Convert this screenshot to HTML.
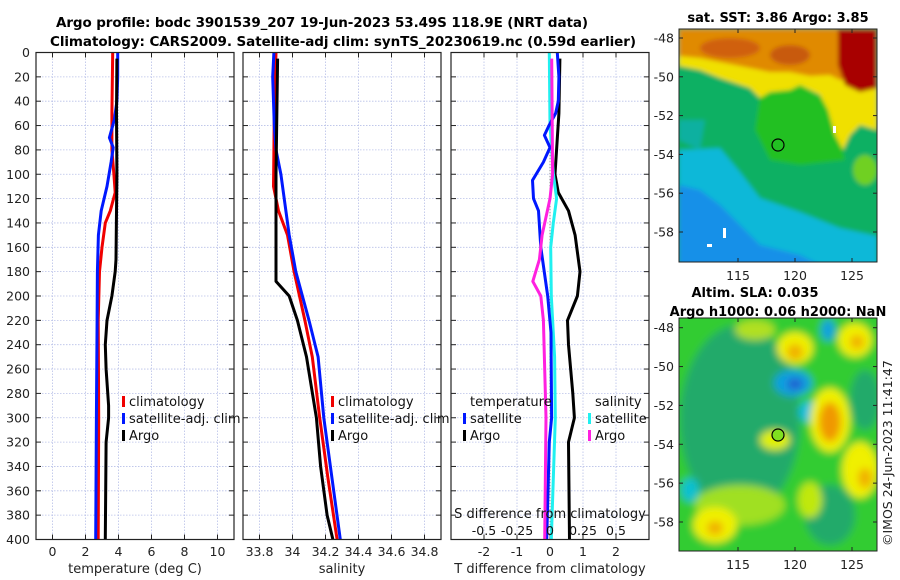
<!DOCTYPE html>
<html><head><meta charset="utf-8"><style>
body{margin:0;background:#fff;width:900px;height:580px;overflow:hidden}
svg{display:block;font-family:"DejaVu Sans","Liberation Sans",sans-serif}
</style></head><body>
<svg id="chart" width="900" height="580" viewBox="0 0 900 580">
<defs>
<filter id="blur2"><feGaussianBlur stdDeviation="2"/></filter>
<filter id="blur4"><feGaussianBlur stdDeviation="4"/></filter>
<clipPath id="clipTop"><rect x="679" y="29" width="198" height="233"/></clipPath>
<clipPath id="clipBot"><rect x="679" y="318" width="198" height="233"/></clipPath>
</defs>
<text x="322" y="27" font-size="13.5" font-weight="bold" text-anchor="middle" textLength="532">Argo profile: bodc 3901539_207 19-Jun-2023 53.49S 118.9E (NRT data)</text>
<text x="343" y="46" font-size="13.5" font-weight="bold" text-anchor="middle" textLength="586">Climatology: CARS2009. Satellite-adj clim: synTS_20230619.nc (0.59d earlier)</text>
<g id="plots"></g>

<!-- top map -->
<g clip-path="url(#clipTop)">
<g filter="url(#blur2)">
<rect x="670" y="20" width="220" height="250" fill="#10b064"/>
<polygon points="679,150 720,148 740,172 760,198 800,212 840,228 877,236 877,270 679,270" fill="#10b8d8"/>
<polygon points="679,185 700,190 720,205 740,225 760,245 800,255 830,270 679,270" fill="#1890e8"/>
<polygon points="679,140 700,150 705,120 679,120" fill="#10b0a0"/>
<polygon points="760,95 800,85 825,100 840,140 845,160 800,165 770,160 755,130" fill="#20c020"/>
<ellipse cx="865" cy="170" rx="12" ry="15" fill="#70d020"/>
<polygon points="679,29 877,29 877,130 860,125 850,135 843,150 835,135 828,110 820,95 800,85 790,90 770,92 760,98 750,88 720,78 700,70 679,66" fill="#f0e000"/>
<polygon points="679,29 877,29 877,75 840,80 830,75 810,76 790,72 770,72 750,68 720,62 700,58 679,56" fill="#e08a00"/>
<ellipse cx="730" cy="48" rx="30" ry="10" fill="#d06010"/>
<ellipse cx="790" cy="55" rx="20" ry="10" fill="#c85a10"/>
<polygon points="838,29 877,29 877,88 860,92 845,85 838,65" fill="#a80000"/>
</g>
<rect x="833" y="126" width="3" height="7" fill="#fff"/>
<rect x="723" y="228" width="3" height="10" fill="#fff"/>
<rect x="707" y="244" width="5" height="3" fill="#fff"/>
<circle cx="778" cy="145" r="6" fill="none" stroke="#000" stroke-width="1.2"/>
</g>
<rect x="679" y="29" width="198" height="233" fill="none" stroke="#222" stroke-width="1"/>

<!-- bottom map -->
<g clip-path="url(#clipBot)">
<g filter="url(#blur4)">
<rect x="670" y="310" width="220" height="250" fill="#30cc30"/>
<ellipse cx="740" cy="420" rx="60" ry="95" fill="#20aa6a"/>
<ellipse cx="830" cy="515" rx="25" ry="30" fill="#20aa6a"/>
<ellipse cx="865" cy="400" rx="15" ry="30" fill="#20aa6a"/>
<ellipse cx="740" cy="505" rx="45" ry="20" fill="#a0e020"/>
<ellipse cx="715" cy="525" rx="22" ry="18" fill="#f0f000"/>
<ellipse cx="715" cy="528" rx="8" ry="7" fill="#f0b000"/>
<ellipse cx="690" cy="490" rx="9" ry="12" fill="#10c0d0"/>
<ellipse cx="795" cy="348" rx="18" ry="16" fill="#f0f000"/>
<ellipse cx="795" cy="352" rx="8" ry="8" fill="#f0b000"/>
<ellipse cx="793" cy="383" rx="19" ry="13" fill="#10a0e0"/>
<ellipse cx="795" cy="384" rx="8" ry="6" fill="#2060d0"/>
<ellipse cx="810" cy="412" rx="11" ry="11" fill="#10c0e0"/>
<ellipse cx="828" cy="330" rx="7" ry="11" fill="#10a0e0"/>
<ellipse cx="830" cy="420" rx="20" ry="32" fill="#f0f000"/>
<ellipse cx="830" cy="422" rx="11" ry="20" fill="#f09800"/>
<ellipse cx="855" cy="340" rx="17" ry="17" fill="#f0f000"/>
<ellipse cx="857" cy="342" rx="7" ry="7" fill="#f0b000"/>
<ellipse cx="860" cy="470" rx="18" ry="28" fill="#f0f000"/>
<ellipse cx="865" cy="478" rx="7" ry="10" fill="#f0b000"/>
<ellipse cx="775" cy="440" rx="15" ry="10" fill="#e0f000"/>
<ellipse cx="810" cy="500" rx="12" ry="18" fill="#c0e810"/>
<ellipse cx="755" cy="330" rx="20" ry="10" fill="#b0e020"/>
</g>
<circle cx="778" cy="435" r="6" fill="#80e020" stroke="#000" stroke-width="1.2"/>
</g>
<rect x="679" y="318" width="198" height="233" fill="none" stroke="#222" stroke-width="1"/>

<text x="778" y="22" font-size="13" font-weight="bold" text-anchor="middle">sat. SST: 3.86 Argo: 3.85</text>
<text x="755" y="297" font-size="13" font-weight="bold" text-anchor="middle">Altim. SLA: 0.035</text>
<text x="778" y="316" font-size="13" font-weight="bold" text-anchor="middle">Argo h1000: 0.06 h2000: NaN</text>
<text transform="translate(892,546) rotate(-90)" font-size="12.5" fill="#222">©IMOS 24-Jun-2023 11:41:47</text>
</svg>
<script>
const NS='http://www.w3.org/2000/svg';
const depthTicks=[0,20,40,60,80,100,120,140,160,180,200,220,240,260,280,300,320,340,360,380,400];
// Temperature panel
const tempTicks=[0,2,4,6,8,10];
const tClimDepth=[0,50,80,100,115,130,140,160,180,220,300,400];
const tClim=[3.65,3.6,3.6,3.72,3.8,3.5,3.2,3.0,2.85,2.77,2.8,2.77];
const tSatDepth=[0,20,40,55,70,78,90,110,130,150,180,220,300,400];
const tSat=[3.95,3.95,3.9,3.75,3.45,3.68,3.55,3.3,2.95,2.78,2.72,2.7,2.66,2.62];
const tArgoDepth=[5,50,100,170,180,200,220,240,260,290,300,320,400];
const tArgo=[3.9,3.88,3.9,3.85,3.8,3.6,3.3,3.2,3.25,3.4,3.4,3.25,3.2];
// Salinity panel
const salTicks=['33.8','34','34.2','34.4','34.6','34.8'];
const sClimDepth=[0,50,110,130,150,180,220,250,300,350,400];
const sClim=[33.9,33.89,33.885,33.915,33.97,34.01,34.075,34.12,34.165,34.215,34.27];
const sSatDepth=[0,20,60,80,100,150,180,220,250,300,400];
const sSat=[33.887,33.88,33.89,33.9,33.93,33.98,34.02,34.1,34.155,34.19,34.29];
const sArgoDepth=[5,100,188,200,220,250,300,340,380,400];
const sArgo=[33.91,33.9,33.9,33.98,34.03,34.085,34.145,34.17,34.21,34.245];
// Difference panel
const dTTicks=[-2,-1,0,1,2];
const dSTickLabels=['-0.5','-0.25','0','0.25','0.5'];
const dSTicks=[-0.5,-0.25,0,0.25,0.5];
const dTSatDepth=[0,20,40,50,60,68,78,90,105,120,130,160,200,230,300,320,400];
const dTSat=[0.22,0.27,0.25,0.17,-0.03,-0.17,0,-0.2,-0.53,-0.5,-0.35,-0.28,-0.07,0.03,0.05,-0.02,-0.1];
const dTArgoDepth=[5,50,100,115,130,150,180,200,220,240,280,300,320,400];
const dTArgo=[0.3,0.27,0.15,0.25,0.56,0.76,0.91,0.83,0.53,0.56,0.69,0.74,0.56,0.59];
const dSSatDepth=[0,60,100,120,140,160,200,250,300,400];
const dSSat=[-0.005,0,0.026,0.05,0.025,0.005,0.01,0.035,0.04,0.01];
const dSArgoDepth=[5,100,120,150,170,188,200,220,300,400];
const dSArgo=[0.013,0.02,0,-0.06,-0.08,-0.13,-0.07,-0.05,-0.03,-0.04];
// Map ticks
const latTicks=[-48,-50,-52,-54,-56,-58];
const lonTicks=[115,120,125];

const g=document.getElementById('plots');
const Y0=52.5,Y1=539.5;
const yD=d=>Y0+(d/400)*(Y1-Y0);
function el(tag,attrs,parent){const e=document.createElementNS(NS,tag);for(const k in attrs)e.setAttribute(k,attrs[k]);(parent||g).appendChild(e);return e;}
function txt(x,y,s,size,anchor,parent,fill){const t=el('text',{x:x,y:y,'font-size':size,'text-anchor':anchor,fill:fill||'#222'},parent);t.textContent=s;return t;}

function panel(name,x0,x1,xmin,xmax,ticks,tickLabels,xlabel,showY){
  const xs=v=>x0+(v-xmin)/(xmax-xmin)*(x1-x0);
  const p=el('g',{});
  
  
  depthTicks.forEach(d=>{
    el('line',{x1:x0,x2:x1,y1:yD(d),y2:yD(d),stroke:'#b8c0e8','stroke-width':0.8,'stroke-dasharray':'1.5,1.5'},p);
    el('line',{x1:x0,x2:x0+5,y1:yD(d),y2:yD(d),stroke:'#222'},p);
    el('line',{x1:x1-5,x2:x1,y1:yD(d),y2:yD(d),stroke:'#222'},p);
    if(showY){const t=txt(30,yD(d)+4.5,String(d),12.5,'end',p);
      
      }
  });
  ticks.forEach((v,i)=>{
    el('line',{x1:xs(v),x2:xs(v),y1:Y0,y2:Y1,stroke:'#b8c0e8','stroke-width':0.8,'stroke-dasharray':'1.5,1.5'},p);
    el('line',{x1:xs(v),x2:xs(v),y1:Y1,y2:Y1-5,stroke:'#222'},p);
    el('line',{x1:xs(v),x2:xs(v),y1:Y0,y2:Y0+5,stroke:'#222'},p);
    const t=txt(xs(v),556,tickLabels[i],12.5,'middle',p);
    
    
  });
  const xl=txt((x0+x1)/2,573,xlabel,13,'middle',p);
  
  
  return {xs,p,x0,x1};
}
function line(P,xs,depths,vals,color,name){
  let d='';depths.forEach((dd,i)=>{d+=(i?'L':'M')+xs(vals[i]).toFixed(1)+','+yD(dd).toFixed(1);});
  const pth=el('path',{d:d,fill:'none',stroke:color,'stroke-width':3,'stroke-linejoin':'round'},P.p);
  
  
}
function frame(P){el('rect',{x:P.x0,y:Y0,width:P.x1-P.x0,height:Y1-Y0,fill:'none',stroke:'#222','stroke-width':1.2},P.p);}
function legendEntry(P,x,y,color,label,name){
  const lg=el('g',{},P.p);
  
  
  el('rect',{x:x-7,y:y-10,width:3,height:11,fill:color},lg);
  txt(x,y,label,13,'start',lg,'#111');
}

// Panel 1
const P1=panel('temperature-panel',36,234,-1,11,tempTicks,tempTicks.map(String),'temperature (deg C)',true);
line(P1,P1.xs,tClimDepth,tClim,'#f00000','climatology-temperature-line');
line(P1,P1.xs,tSatDepth,tSat,'#0018ff','satellite-temperature-line');
line(P1,P1.xs,tArgoDepth,tArgo,'#000','argo-temperature-line');
frame(P1);
legendEntry(P1,129,406,'#f00000','climatology','legend-climatology');
legendEntry(P1,129,423,'#0018ff','satellite-adj. clim','legend-satellite');
legendEntry(P1,129,440,'#000','Argo','legend-argo');

// Panel 2
const P2=panel('salinity-panel',243,441,33.7,34.9,salTicks.map(Number),salTicks,'salinity',false);
line(P2,P2.xs,sClimDepth,sClim,'#f00000','climatology-salinity-line');
line(P2,P2.xs,sSatDepth,sSat,'#0018ff','satellite-salinity-line');
line(P2,P2.xs,sArgoDepth,sArgo,'#000','argo-salinity-line');
frame(P2);
legendEntry(P2,338,406,'#f00000','climatology','legend-climatology');
legendEntry(P2,338,423,'#0018ff','satellite-adj. clim','legend-satellite');
legendEntry(P2,338,440,'#000','Argo','legend-argo');

// Panel 3
const P3=panel('difference-panel',451,649,-3,3,dTTicks,dTTicks.map(String),'T difference from climatology',false);
const xsS=v=>P3.xs(v*4);
el('line',{x1:P3.xs(0),x2:P3.xs(0),y1:yD(40),y2:Y1,stroke:'#777','stroke-width':1,'stroke-dasharray':'1,2'},P3.p);
line(P3,P3.xs,dTArgoDepth,dTArgo,'#000','argo-temperature-diff-line');
line(P3,xsS,dSSatDepth,dSSat,'#20f0f0','satellite-salinity-diff-line');
line(P3,P3.xs,dTSatDepth,dTSat,'#0018ff','satellite-temperature-diff-line');
line(P3,xsS,dSArgoDepth,dSArgo,'#ff20e0','argo-salinity-diff-line');
frame(P3);
const st=txt(P3.xs(0),518,'S difference from climatology',13,'middle',P3.p,'#111');


dSTicks.forEach((v,i)=>{const t=txt(xsS(v),535,dSTickLabels[i],12.5,'middle',P3.p,'#111');
  
  });
const th=txt(470,406,'temperature',13,'start',P3.p,'#111');


const sh=txt(595,406,'salinity',13,'start',P3.p,'#111');


legendEntry(P3,470,423,'#0018ff','satellite','legend-temp-satellite');
legendEntry(P3,470,440,'#000','Argo','legend-temp-argo');
legendEntry(P3,595,423,'#20f0f0','satellite','legend-sal-satellite');
legendEntry(P3,595,440,'#ff20e0','Argo','legend-sal-argo');

// Map axes
const svg=document.getElementById('chart');
function mapAxes(top,bottom,latTop,latScale,name){
  const ax=el('g',{},svg);
  
  
  const lonX=l=>738+(l-115)*11.4;
  latTicks.forEach(l=>{const y=latTop+(-48-l)*latScale;
    el('line',{x1:679,x2:683,y1:y,y2:y,stroke:'#222'},ax);
    el('line',{x1:873,x2:877,y1:y,y2:y,stroke:'#222'},ax);
    txt(674,y+4.5,String(l),12.5,'end',ax);});
  lonTicks.forEach(l=>{const x=lonX(l);
    el('line',{x1:x,x2:x,y1:bottom,y2:bottom-4,stroke:'#222'},ax);
    el('line',{x1:x,x2:x,y1:top,y2:top+4,stroke:'#222'},ax);
    txt(x,bottom+18,String(l),12.5,'middle',ax);});
}
mapAxes(29,262,38,19.4,'sst-map-axes');
mapAxes(318,551,327.7,19.43,'sla-map-axes');
</script>
</body></html>
